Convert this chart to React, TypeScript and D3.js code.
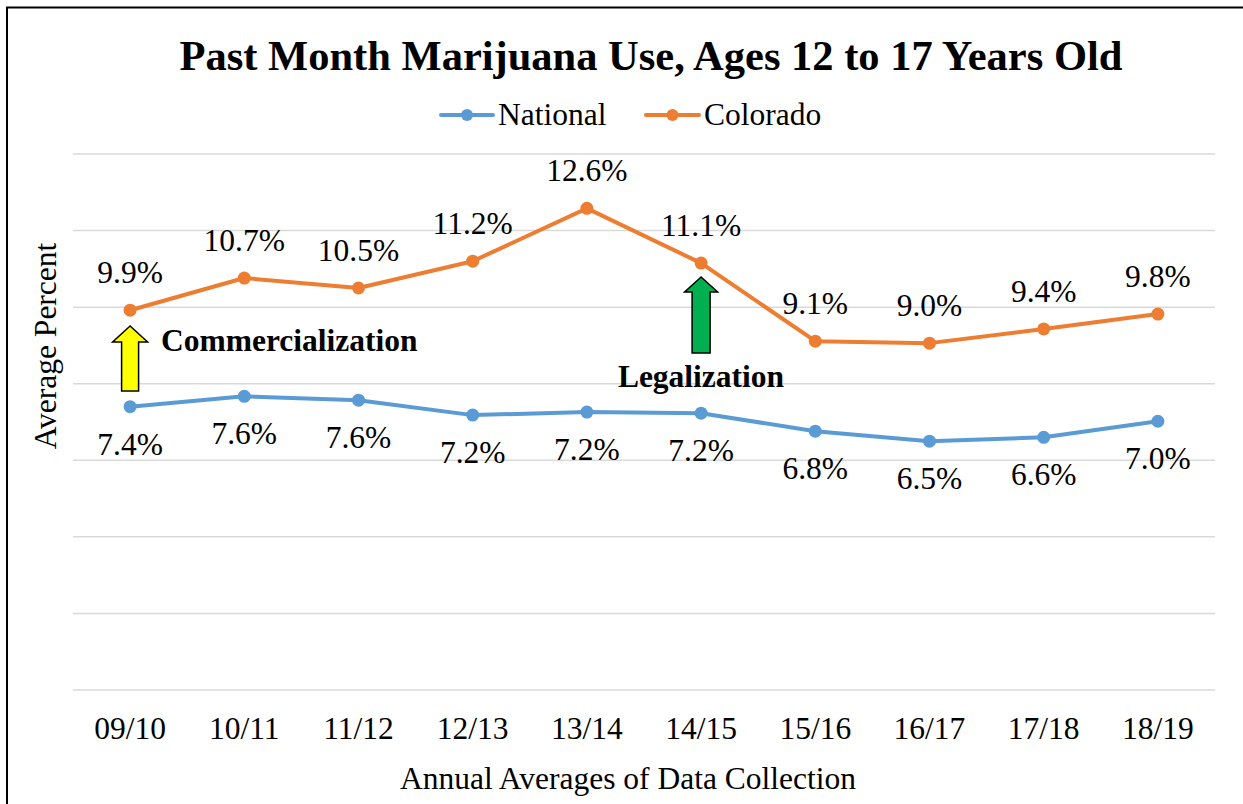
import React from "react";
import * as d3 from "d3";

const categories = ["09/10", "10/11", "11/12", "12/13", "13/14", "14/15", "15/16", "16/17", "17/18", "18/19"];
const nationalValues = [7.4, 7.67, 7.57, 7.18, 7.26, 7.23, 6.76, 6.5, 6.6, 7.02];
const coloradoValues = [9.92, 10.76, 10.5, 11.2, 12.58, 11.15, 9.11, 9.06, 9.43, 9.82];
const nationalLabels = ["7.4%", "7.6%", "7.6%", "7.2%", "7.2%", "7.2%", "6.8%", "6.5%", "6.6%", "7.0%"];
const coloradoLabels = ["9.9%", "10.7%", "10.5%", "11.2%", "12.6%", "11.1%", "9.1%", "9.0%", "9.4%", "9.8%"];
const yTicks = [0, 2, 4, 6, 8, 10, 12, 14];

const NAT = "#5b9bd5";
const COL = "#ed7d31";
const FONT = "Liberation Serif, Times New Roman, DejaVu Serif, serif";
const FS = 31.5;

export default function App() {
  const left = 73, right = 1215, top = 154, bottom = 690;
  const x = d3.scaleBand<string>().domain(categories).range([left, right]);
  const cx = (c: string) => (x(c) as number) + x.bandwidth() / 2;
  const y = d3.scaleLinear().domain([0, 14]).range([bottom, top]);
  const line = d3.line<number>().x((_, i) => cx(categories[i])).y((d) => y(d));

  const arrow = (xc: number, tipY: number, baseY: number, headH: number, headW: number, shaftW: number, fill: string) => {
    const p = [
      [xc, tipY],
      [xc + headW / 2, tipY + headH],
      [xc + shaftW / 2, tipY + headH],
      [xc + shaftW / 2, baseY],
      [xc - shaftW / 2, baseY],
      [xc - shaftW / 2, tipY + headH],
      [xc - headW / 2, tipY + headH],
    ];
    return <polygon points={p.map((q) => q.join(",")).join(" ")} fill={fill} stroke="#000" strokeWidth={1.5} />;
  };

  const xa = cx(categories[0]);
  const xl = cx(categories[5]);
  const ts = { fontFamily: FONT };

  return (
    <svg width={1243} height={804} style={{ position: "absolute", left: 0, top: 0, fontFamily: FONT }}>
      <rect x={0} y={0} width={1243} height={804} fill="#fff" />
      <rect x={7} y={7.5} width={1300} height={900} fill="none" stroke="#000" strokeWidth={2} />
      <text style={ts} x={651} y={70} textAnchor="middle" fontSize={42.5} fontWeight="bold" fill="#000">
        Past Month Marijuana Use, Ages 12 to 17 Years Old
      </text>
      <g>
        <line x1={441} x2={493} y1={115} y2={115} stroke={NAT} strokeWidth={4} strokeLinecap="round" />
        <circle cx={467} cy={115} r={6} fill={NAT} />
        <text style={ts} x={498} y={125} fontSize={FS} fill="#000">National</text>
        <line x1={646} x2={699} y1={115} y2={115} stroke={COL} strokeWidth={4} strokeLinecap="round" />
        <circle cx={672.5} cy={115} r={6} fill={COL} />
        <text style={ts} x={704} y={125} fontSize={FS} fill="#000">Colorado</text>
      </g>
      {yTicks.map((t) => (
        <line key={t} x1={left} x2={right} y1={y(t)} y2={y(t)} stroke="#d9d9d9" strokeWidth={1.5} />
      ))}
      {categories.map((c) => (
        <text style={ts} key={c} x={cx(c)} y={739} textAnchor="middle" fontSize={FS} fill="#000">{c}</text>
      ))}
      <text style={ts} x={628} y={789} textAnchor="middle" fontSize={FS} fill="#000">Annual Averages of Data Collection</text>
      <text style={ts} transform={`translate(56,346) rotate(-90)`} textAnchor="middle" fontSize={FS} fill="#000">Average Percent</text>

      <path d={line(nationalValues) || ""} fill="none" stroke={NAT} strokeWidth={4} strokeLinejoin="round" />
      <path d={line(coloradoValues) || ""} fill="none" stroke={COL} strokeWidth={4} strokeLinejoin="round" />
      {nationalValues.map((v, i) => (
        <circle key={"n" + i} cx={cx(categories[i])} cy={y(v)} r={6.5} fill={NAT} />
      ))}
      {coloradoValues.map((v, i) => (
        <circle key={"c" + i} cx={cx(categories[i])} cy={y(v)} r={6.5} fill={COL} />
      ))}
      {nationalLabels.map((l, i) => (
        <text style={ts} key={"nl" + i} x={cx(categories[i])} y={y(nationalValues[i]) + 48} textAnchor="middle" fontSize={FS} fill="#000">{l}</text>
      ))}
      {coloradoLabels.map((l, i) => (
        <text style={ts} key={"cl" + i} x={cx(categories[i])} y={y(coloradoValues[i]) - 27} textAnchor="middle" fontSize={FS} fill="#000">{l}</text>
      ))}

      {arrow(xa, 326, 391, 16, 35, 17, "#ffff00")}
      <text style={ts} x={161} y={351} fontSize={FS} fontWeight="bold" fill="#000">Commercialization</text>
      {arrow(xl, 277, 353, 15, 33, 18, "#00b050")}
      <text style={ts} x={701} y={387} textAnchor="middle" fontSize={FS} fontWeight="bold" fill="#000">Legalization</text>
    </svg>
  );
}
